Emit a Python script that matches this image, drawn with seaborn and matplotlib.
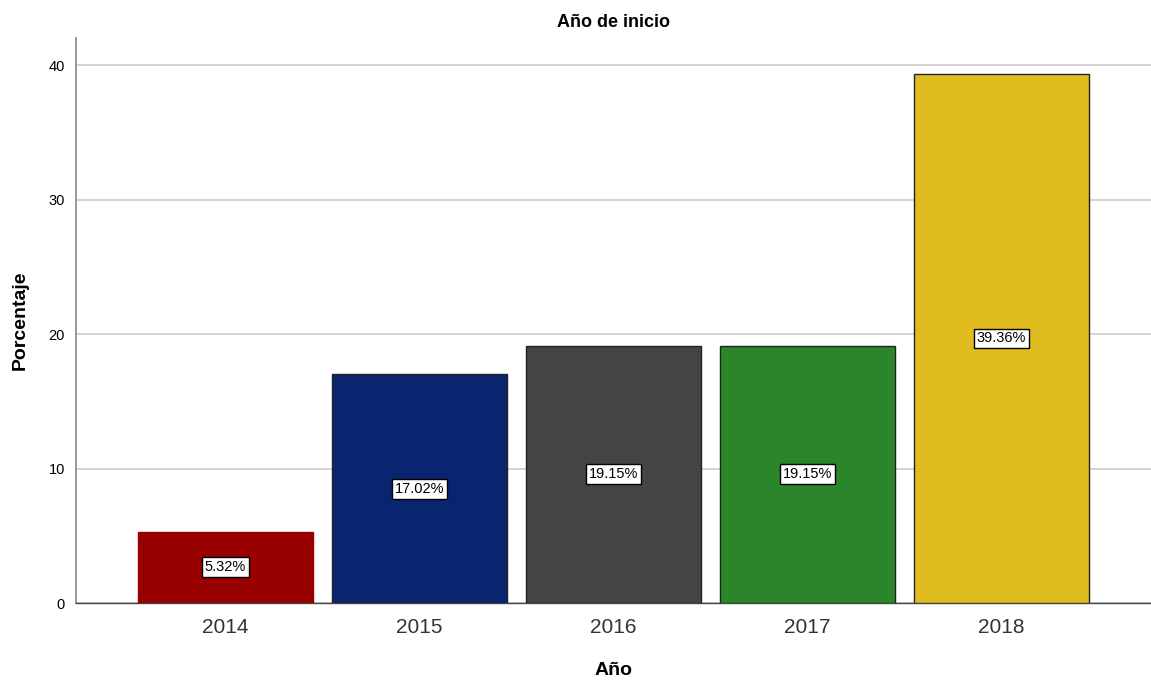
import pandas as pd
import matplotlib
matplotlib.use("Agg")
import matplotlib.pyplot as plt
import seaborn as sns

# datos
anios = ["2014", "2015", "2016", "2017", "2018"]
porcentajes = [5.32, 17.02, 19.15, 19.15, 39.36]
colores = ["#990000", "#0a2570", "#444446", "#2a8629", "#e0bc1f"]
bordes = ["#990000", "#222222", "#222222", "#222222", "#222222"]

df = pd.DataFrame({"Año": anios, "Porcentaje": porcentajes})

sns.set_style("white")
plt.rcParams["font.family"] = ["Liberation Sans", "DejaVu Sans"]

fig = plt.figure(figsize=(11.51, 6.83), dpi=100)
ax = fig.add_axes([0.066, 0.117, 0.934, 0.827])

sns.barplot(data=df, x="Año", y="Porcentaje", hue="Año", palette=colores,
            saturation=1, width=0.9, legend=False, ax=ax, zorder=3)

for patch, borde in zip(ax.patches, bordes):
    patch.set_edgecolor(borde)
    patch.set_linewidth(1.0)

for i, v in enumerate(porcentajes):
    ax.text(i, v / 2, f"{v:.2f}%", ha="center", va="center", fontsize=10.5,
            color="black", zorder=5,
            bbox=dict(boxstyle="square,pad=0.2", fc="white", ec="black", lw=1.0))

ax.set_ylim(0, 42)
ax.set_xlim(-0.77, 4.77)
ax.set_yticks([0, 10, 20, 30, 40])
ax.yaxis.grid(True, color="#cccccc", linewidth=1.2, zorder=0)
ax.set_axisbelow(True)

for s in ["top", "right"]:
    ax.spines[s].set_visible(False)
ax.spines["left"].set_color("#888888")
ax.spines["left"].set_linewidth(1.2)
ax.spines["bottom"].set_color("#444444")
ax.spines["bottom"].set_linewidth(1.0)

ax.tick_params(axis="y", labelsize=10.5, length=0, pad=8, colors="black")
ax.tick_params(axis="x", labelsize=15, length=0, pad=11, labelcolor="#333333")

ax.set_title("Año de inicio", fontsize=13, fontweight="bold", pad=8, color="black")
ax.set_xlabel("Año", fontsize=14, fontweight="bold", labelpad=18, color="black")
ax.set_ylabel("Porcentaje", fontsize=14, fontweight="bold", labelpad=14, color="black")

plt.savefig("out.png", dpi=100)
plt.close()
